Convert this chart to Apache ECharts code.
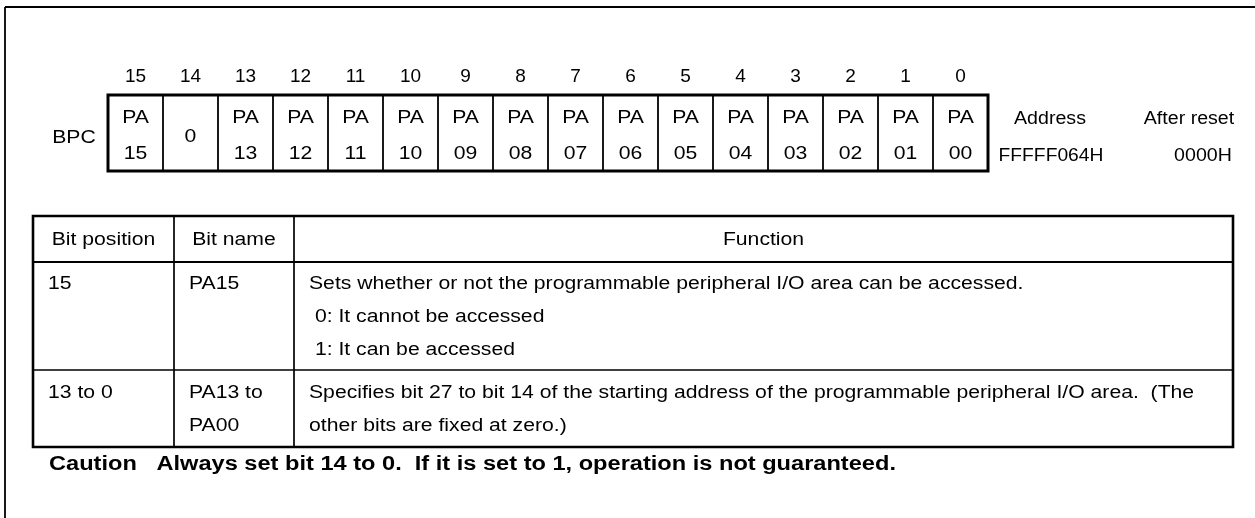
<!DOCTYPE html>
<html>
<head>
<meta charset="utf-8">
<script src="https://cdn.jsdelivr.net/npm/echarts@6/dist/echarts.min.js"></script>
<style>
html,body{margin:0;padding:0;background:#fff;}
#chart{width:1255px;height:518px;}
</style>
</head>
<body>
<div id="chart"></div>
<script>
// ---- data ----
const registerName = 'BPC';
const bitNumbers = ['15','14','13','12','11','10','9','8','7','6','5','4','3','2','1','0'];
const bitNames = ['PA15','0','PA13','PA12','PA11','PA10','PA09','PA08','PA07','PA06','PA05','PA04','PA03','PA02','PA01','PA00'];
const addressLabel = ['Address', 'FFFFF064H'];
const resetLabel = ['After reset', '0000H'];
const colBitPosition = [['Bit position'], ['15'], ['13 to 0']];
const colBitName = [['Bit name'], ['PA15'], ['PA13 to', 'PA00']];
const colFunction = [
  ['Function'],
  ['Sets whether or not the programmable peripheral I/O area can be accessed.', ' 0: It cannot be accessed', ' 1: It can be accessed'],
  ['Specifies bit 27 to bit 14 of the starting address of the programmable peripheral I/O area.  (The', 'other bits are fixed at zero.)']
];
const cautionText = 'Caution   Always set bit 14 to 0.  If it is set to 1, operation is not guaranteed.';

// ---- layout / style ----
const FONT = 'Liberation Sans, Arial, Helvetica, sans-serif';
const FS = 17.5;
const SX = 1.21;          // horizontal stretch of the glyphs
const REG = {left: 108, top: 95, width: 880, height: 76};
const TBL = {left: 33, top: 216, width: 1200};
const colEdges = [0, 141, 261, 1200];
const rowPad = 15, lineH = 31, textLineH = 33, textPad = 15, textShift = 1.5;
const rowLines = colFunction.map((f, r) => Math.max(f.length, colBitName[r].length, colBitPosition[r].length));
const rowHeights = rowLines.map(n => rowPad + n * lineH);
const rowTops = [];
rowHeights.reduce((acc, h, i) => { rowTops[i] = acc; return acc + h; }, 0);
const tableHeight = rowHeights.reduce((a, b) => a + b, 0);

const chart = echarts.init(document.getElementById('chart'), null, {renderer: 'canvas'});

function txt(text, x, y, align, extra) {
  return {type: 'text', x: x, y: y, scaleX: SX, scaleY: 1,
    style: Object.assign({text: text, x: 0, y: 0, align: align || 'center', verticalAlign: 'middle',
      fontSize: FS, fontFamily: FONT, fill: '#000'}, extra || {})};
}

function renderRegister(params, api) {
  const i = api.value(0);
  const bot = api.coord([i, 0]);
  const top = api.coord([i, 1]);
  const w = api.size([1, 0])[0];
  const cx = bot[0];
  const x0 = cx - w / 2;
  const h = bot[1] - top[1];
  const name = bitNames[i];
  const children = [];
  if (i > 0) {
    children.push({type: 'line', shape: {x1: x0, y1: top[1], x2: x0, y2: bot[1]}, style: {stroke: '#000', lineWidth: 1.8}});
  }
  if (name.indexOf('PA') === 0) {
    children.push(txt('PA', cx, top[1] + h * 0.31));
    children.push(txt(name.slice(2), cx, top[1] + h * 0.78));
  } else {
    children.push(txt(name, cx, top[1] + h * 0.56));
  }
  return {type: 'group', children: children};
}

function renderTable(params, api) {
  const r = api.value(0);
  const y0 = rowTops[r];
  const y1 = y0 + rowHeights[r];
  const yMid = (y0 + y1) / 2;
  const children = [];
  const pTL = api.coord([0, y0]);
  const pBR = api.coord([colEdges[3], y1]);
  if (r > 0) {
    children.push({type: 'line', shape: {x1: pTL[0], y1: pTL[1], x2: pBR[0], y2: pTL[1]},
      style: {stroke: '#000', lineWidth: r === 1 ? 2.2 : 1.6}});
  }
  for (let c = 1; c < 3; c++) {
    const px = api.coord([colEdges[c], y0])[0];
    children.push({type: 'line', shape: {x1: px, y1: pTL[1], x2: px, y2: pBR[1]}, style: {stroke: '#000', lineWidth: 1.7}});
  }
  const n = rowLines[r];
  const cols = [colBitPosition[r], colBitName[r], colFunction[r]];
  cols.forEach((lines, c) => {
    lines.forEach((line, k) => {
      const yy = yMid + (k - (n - 1) / 2) * textLineH;
      let p;
      if (r === 0) {
        p = api.coord([(colEdges[c] + colEdges[c + 1]) / 2, yy]);
        children.push(txt(line, p[0], p[1] + textShift, 'center'));
      } else {
        p = api.coord([colEdges[c], yy]);
        children.push(txt(line, p[0] + textPad, p[1] + textShift, 'left'));
      }
    });
  });
  return {type: 'group', children: children};
}

function gtext(text, x, y, align, bold, size, sx) {
  return {type: 'text', x: x, y: y, scaleX: sx || SX,
    style: {text: text, x: 0, y: 0, align: align, verticalAlign: 'middle', fontSize: size || FS,
      fontWeight: bold ? 'bold' : 'normal', fontFamily: FONT, fill: '#000'}};
}

const option = {
  backgroundColor: '#fff',
  animation: false,
  textStyle: {fontFamily: FONT},
  grid: [
    {left: REG.left, top: REG.top, width: REG.width, height: REG.height, show: true, borderColor: '#000', borderWidth: 3, backgroundColor: 'transparent'},
    {left: TBL.left, top: TBL.top, width: TBL.width, height: tableHeight, show: true, borderColor: '#000', borderWidth: 2.6, backgroundColor: 'transparent'}
  ],
  xAxis: [
    {gridIndex: 0, type: 'category', position: 'top', data: bitNumbers,
      axisLine: {show: false, onZero: false}, axisTick: {show: false}, splitLine: {show: false},
      axisLabel: {fontSize: 19, color: '#000', fontFamily: FONT, margin: 9, interval: 0}},
    {gridIndex: 1, type: 'value', min: 0, max: colEdges[3], show: false}
  ],
  yAxis: [
    {gridIndex: 0, type: 'value', min: 0, max: 1, show: false},
    {gridIndex: 1, type: 'value', min: 0, max: tableHeight, inverse: true, show: false}
  ],
  graphic: [
    {type: 'line', shape: {x1: 5, y1: 7, x2: 1255, y2: 7}, style: {stroke: '#000', lineWidth: 1.8}},
    {type: 'line', shape: {x1: 5, y1: 7, x2: 5, y2: 518}, style: {stroke: '#000', lineWidth: 1.8}},
    gtext(registerName, 74, 138, 'center'),
    gtext(addressLabel[0], 1050, 119, 'center', false, FS, 1.12),
    gtext(addressLabel[1], 1051, 156, 'center', false, FS, 1.1),
    gtext(resetLabel[0], 1189, 119, 'center', false, FS, 1.12),
    gtext(resetLabel[1], 1203, 156, 'center', false, FS, 1.12),
    gtext(cautionText, 49, 465, 'left', true, 19.5)
  ],
  series: [
    {type: 'custom', xAxisIndex: 0, yAxisIndex: 0, clip: false, silent: true,
      data: bitNames.map((n, i) => [i]), renderItem: renderRegister},
    {type: 'custom', xAxisIndex: 1, yAxisIndex: 1, clip: false, silent: true,
      data: rowLines.map((n, r) => [r]), renderItem: renderTable}
  ]
};
chart.setOption(option);
</script>
</body>
</html>
